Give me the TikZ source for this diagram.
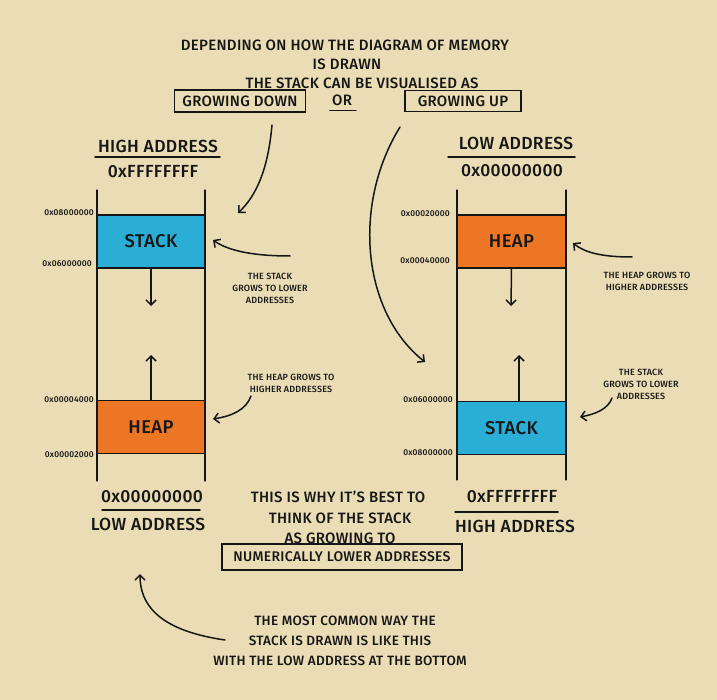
\documentclass[tikz,border=0pt]{standalone}
\usepackage{fontspec}
\IfFontExistsTF{Fira Sans Medium}{\setmainfont{Fira Sans Medium}[LetterSpace=2]}{\setmainfont{Fira Sans}[LetterSpace=2]}
\usetikzlibrary{arrows.meta}
\definecolor{bg}{RGB}{234,221,181}
\definecolor{stackc}{RGB}{42,174,214}
\definecolor{heapc}{RGB}{236,118,36}
\definecolor{ink}{RGB}{22,22,22}
\begin{document}
\begin{tikzpicture}[x=1pt,y=-1pt,
  every node/.style={text=ink, inner sep=0pt},
  title/.style={font=\fontsize{15}{17}\selectfont},
  low/.style={font=\fontsize{13.5}{15}\selectfont},
  big/.style={font=\fontsize{17.5}{20}\selectfont},
  addr/.style={font=\fontsize{8.5}{10}\selectfont},
  note/.style={font=\fontsize{9}{12}\selectfont, align=center},
  pen/.style={draw=ink, line width=1.5pt, line cap=round},
  arr/.style={pen, -{Straight Barb[length=5pt,width=10pt]}},
  framebox/.style={draw=ink, line width=1.5pt, inner xsep=6pt, inner ysep=5pt},
  stackbox/.style={fill=stackc, draw=ink, line width=1.2pt, minimum width=108pt, minimum height=53pt, font=\fontsize{18.5}{20}\selectfont},
  heapbox/.style={fill=heapc, draw=ink, line width=1.2pt, minimum width=108pt, minimum height=53pt, font=\fontsize{18.5}{20}\selectfont}
]
\fill[bg] (0,0) rectangle (717,700);
\useasboundingbox (0,0) rectangle (717,700);

% title
\node[title] (t1) at (345,45) {DEPENDING ON HOW THE DIAGRAM OF MEMORY};
\node[title] (t2) at (347,64) {IS DRAWN};
\node[title] (t3) at (362,83) {THE STACK CAN BE VISUALISED AS};
\node[title, framebox, minimum width=131pt, minimum height=22pt] (gdown) at (240,101) {GROWING DOWN};
\node[title] (or) at (342,100) {OR};
\draw[pen] (or.south west) ++(-2,5) -- ++(26,0);
\node[title, framebox, minimum width=116pt, minimum height=20pt] (gup) at (463,101) {GROWING UP};

% left column
\node[big] (lhigh) at (158,146) {HIGH ADDRESS};
\coordinate (lhl) at (95,157); \coordinate (lhr) at (220,157);
\draw[pen] (lhl) -- (lhr);
\node[big] (lff) at (153,172) {0xFFFFFFFF};
\coordinate (lc1t) at (97,190); \coordinate (lc1b) at (97,481);
\coordinate (lc2t) at (205,190); \coordinate (lc2b) at (205,481);
\draw[pen, line width=1.2pt] (lc1t) -- (lc1b);
\draw[pen, line width=1.2pt] (lc2t) -- (lc2b);
\node[stackbox] (lstack) at (151,241.5) {STACK};
\node[heapbox] (lheap) at (151,427) {HEAP};
\coordinate (ldn) at (151,306);
\coordinate (lupc) at (151,355);
\draw[arr] (lstack.south) -- (ldn);
\draw[arr] (lheap.north) -- (lupc);
\node[addr, anchor=east] (la1) at (94,213) {0x08000000};
\node[addr, anchor=east] (la2) at (92,264) {0x06000000};
\node[addr, anchor=east] (la3) at (94,400) {0x00004000};
\node[addr, anchor=east] (la4) at (94,455) {0x00002000};
\node[note] (lsn) at (270,288) {THE STACK\\GROWS TO LOWER\\ADDRESSES};
\node[note] (lhn) at (291,383) {THE HEAP GROWS TO\\HIGHER ADDRESSES};
\coordinate (lsa) at (213,240);
\coordinate (lha) at (213,419);
\draw[arr] (290,256) .. controls (258,256) and (230,252) .. (lsa);
\draw[arr] (251,396) .. controls (246,410) and (232,416) .. (lha);
\node[big] (lzero) at (152,497) {0x00000000};
\coordinate (lll) at (102,510); \coordinate (llr) at (200,510);
\draw[pen] (lll) -- (llr);
\node[big] (llow) at (148,524) {LOW ADDRESS};

% right column
\node[big] (rlow) at (516,143) {LOW ADDRESS};
\coordinate (rhl) at (448,157); \coordinate (rhr) at (575,157);
\draw[pen] (rhl) -- (rhr);
\node[big] (rzero) at (512,171) {0x00000000};
\coordinate (rc1t) at (457,190); \coordinate (rc1b) at (457,480);
\coordinate (rc2t) at (566,190); \coordinate (rc2b) at (566,480);
\draw[pen, line width=1.2pt] (rc1t) -- (rc1b);
\draw[pen, line width=1.2pt] (rc2t) -- (rc2b);
\node[heapbox, minimum width=109pt] (rheap) at (511.5,241.5) {HEAP};
\node[stackbox, minimum width=109pt] (rstack) at (511.5,428) {STACK};
\coordinate (rdn) at (511,306);
\coordinate (rupc) at (519,355);
\coordinate (rupb) at (519,401.5);
\draw[arr] (rheap.south) -- (rdn);
\draw[arr] (rupb) -- (rupc);
\node[addr, anchor=east] (ra1) at (450,214) {0x00020000};
\node[addr, anchor=east] (ra2) at (450,261) {0x00040000};
\node[addr, anchor=east] (ra3) at (453,400) {0x06000000};
\node[addr, anchor=east] (ra4) at (453,453) {0x08000000};
\node[note] (rhn) at (647,281) {THE HEAP GROWS TO\\HIGHER ADDRESSES};
\node[note] (rsn) at (641,384) {THE STACK\\GROWS TO LOWER\\ADDRESSES};
\coordinate (rha) at (573,243);
\coordinate (rsa) at (580,417);
\draw[arr] (632,257) .. controls (600,257) and (584,252) .. (rha);
\draw[arr] (612,398) .. controls (608,409) and (596,414) .. (rsa);
\node[big] (rff) at (512,497) {0xFFFFFFFF};
\coordinate (rll) at (455,512); \coordinate (rlr) at (558,512);
\draw[pen] (rll) -- (rlr);
\node[big] (rhigh) at (515,526) {HIGH ADDRESS};

% top arrows
\coordinate (gda) at (238,213);
\coordinate (gua) at (425,362);
\draw[arr] (272,125) .. controls (268,170) and (256,196) .. (gda);
\draw[arr] (400,127) .. controls (352,205) and (362,312) .. (gua);

% middle text
\node[title] (m1) at (338,497) {THIS IS WHY IT'S BEST TO};
\node[title] (m2) at (340,518) {THINK OF THE STACK};
\node[title] (m3) at (340,538) {AS GROWING TO};
\node[font=\fontsize{14}{16}\selectfont, draw=ink, line width=1.5pt, minimum width=240pt, minimum height=26pt] (m4) at (342,557) {NUMERICALLY LOWER ADDRESSES};

% bottom text
\node[low] (b1) at (345,621) {THE MOST COMMON WAY THE};
\node[low] (b2) at (340,641) {STACK IS DRAWN IS LIKE THIS};
\node[low] (b3) at (340,661) {WITH THE LOW ADDRESS AT THE BOTTOM};
\coordinate (ba) at (140,574);
\draw[arr] (225,640) .. controls (170,632) and (140,612) .. (ba);
\end{tikzpicture}
\end{document}
